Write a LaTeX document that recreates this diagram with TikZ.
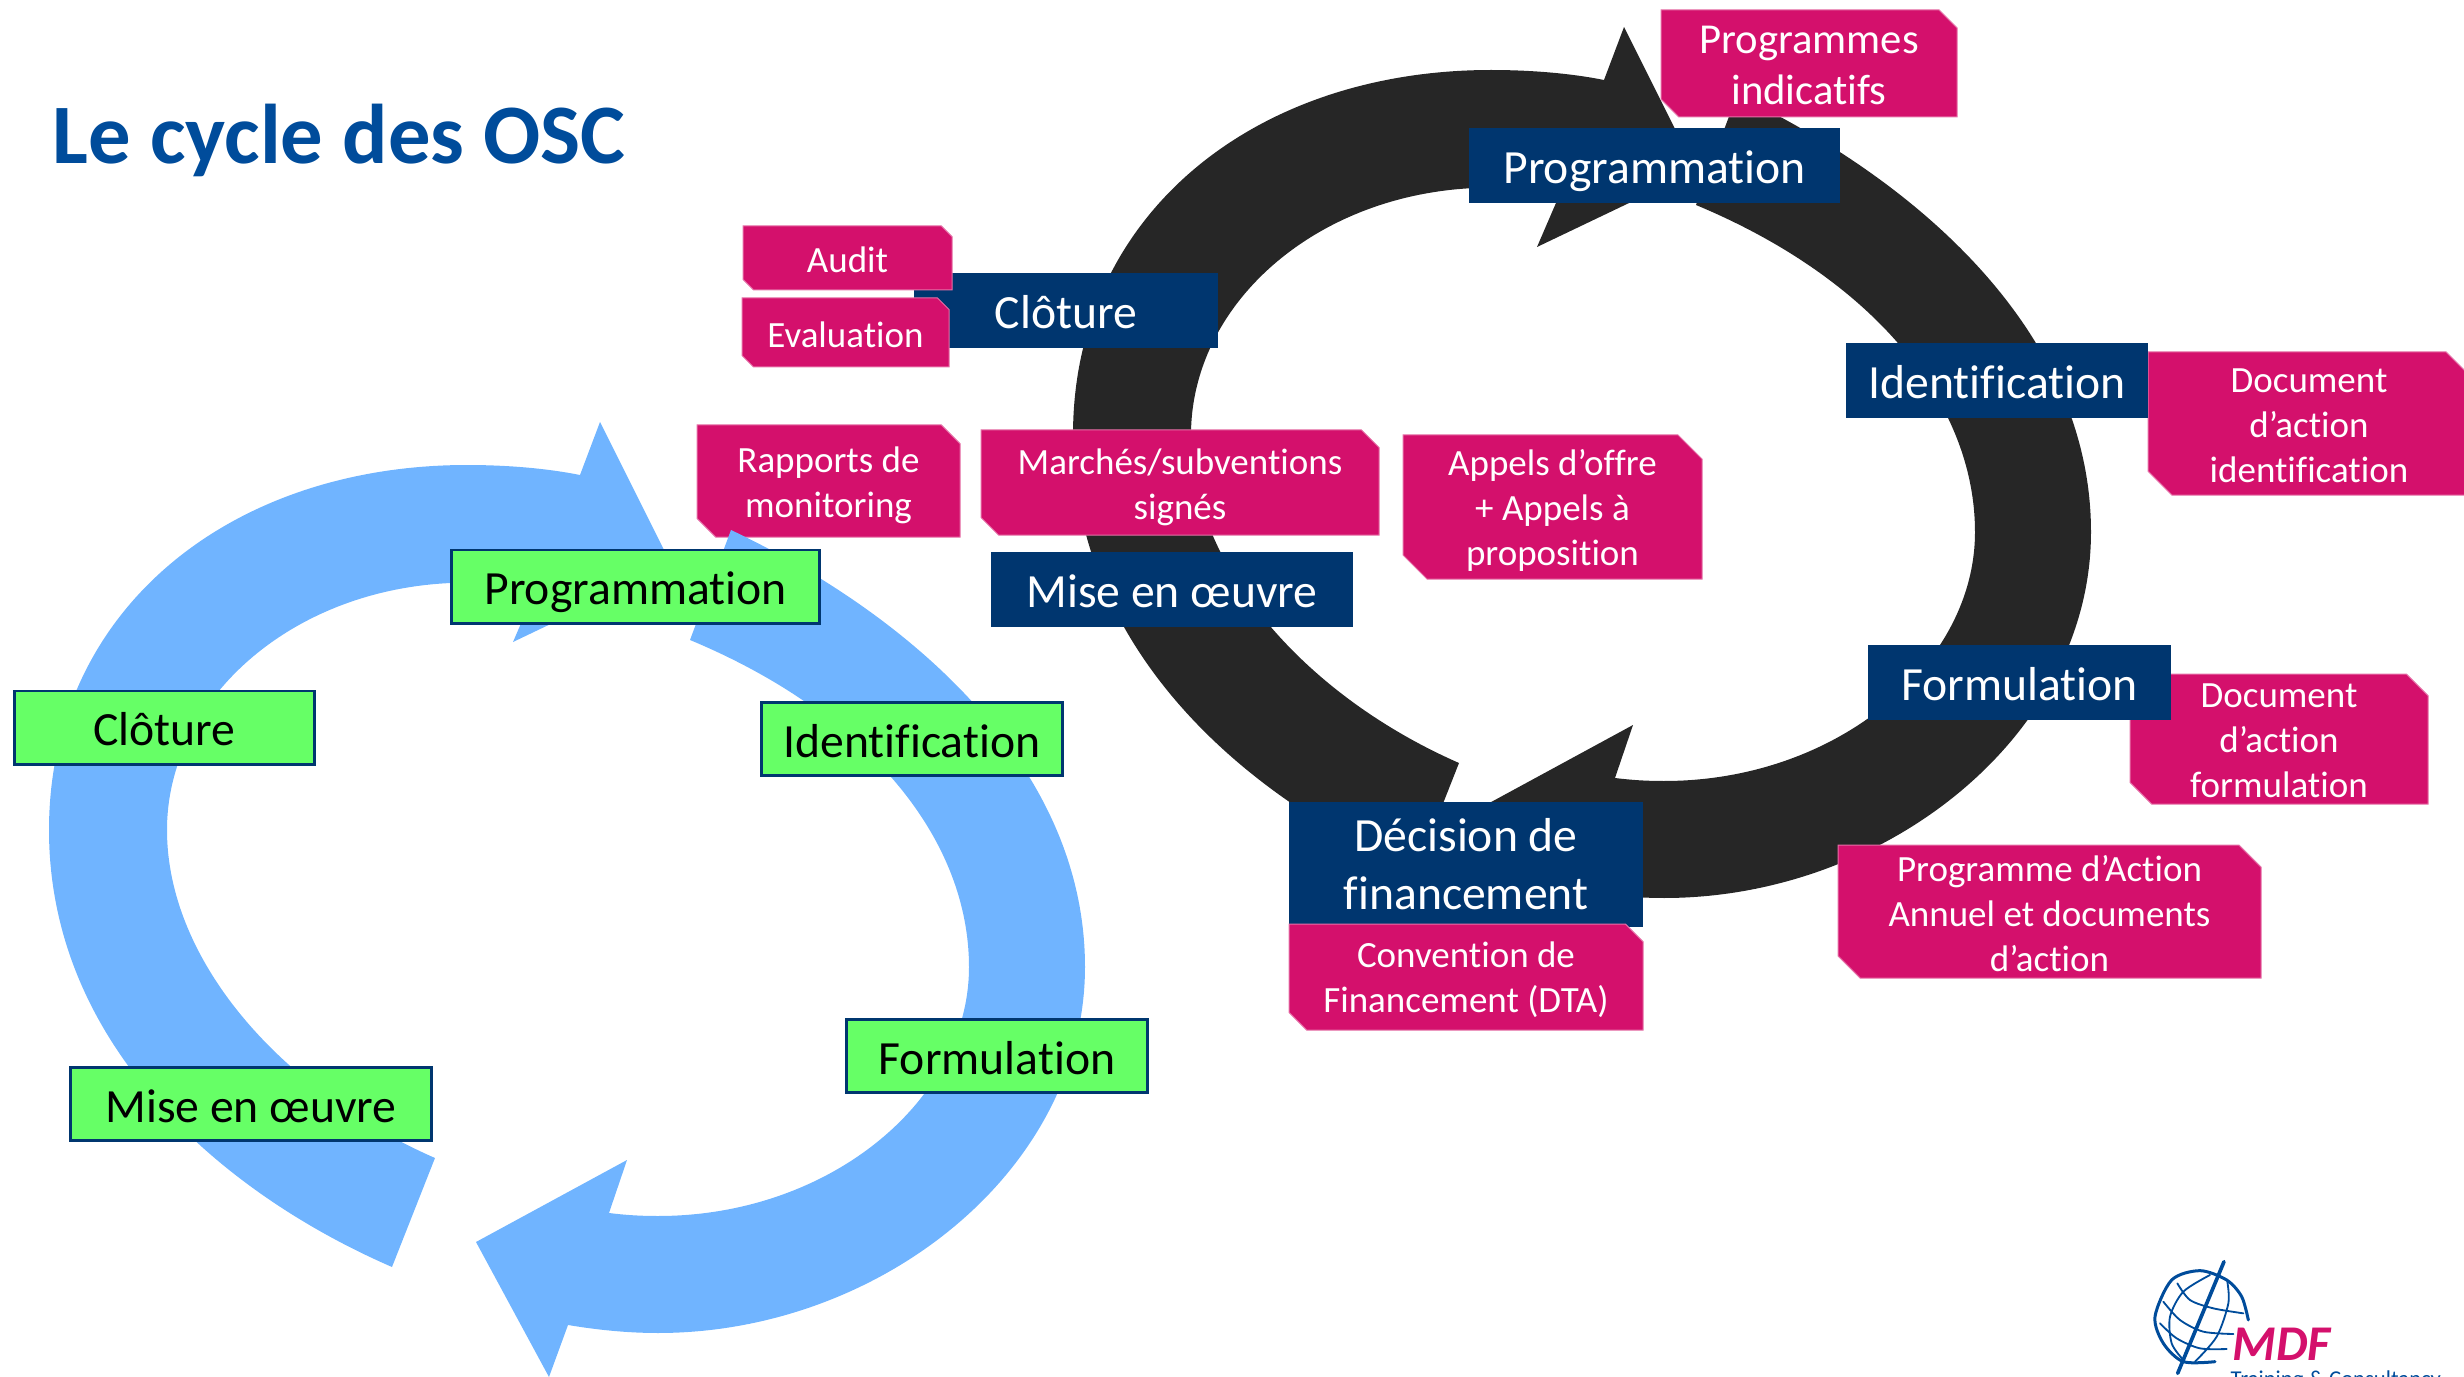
\documentclass[tikz,border=0pt]{standalone}
\usepackage{fontspec}
\setmainfont{Carlito}[Ligatures=NoCommon]
\usepackage{xcolor}
\definecolor{arrowblack}{HTML}{262626}
\definecolor{arrowblue}{HTML}{70B4FF}
\definecolor{stepnavy}{HTML}{00366F}
\definecolor{stepgreen}{HTML}{66FF66}
\definecolor{docpink}{HTML}{D4106C}
\definecolor{logoblue}{HTML}{004C9B}
\tikzset{
  navybox/.style={fill=stepnavy,text=white,inner sep=0pt,minimum height=22.5pt,align=center,font={\fontsize{14.3}{17.4}\selectfont}},
  greenbox/.style={fill=stepgreen,draw=stepnavy,line width=0.8pt,text=black,inner sep=0pt,minimum height=22pt,font={\fontsize{14.3}{17}\selectfont}},
  oneline/.style={text height=12pt,text depth=1.2pt},
  docfill/.style={fill=docpink,draw=docpink!60!white,line width=0.3pt},
  doctext/.style={text=white,inner sep=0pt,align=center,yshift=-0.6pt,font={\fontsize{11.1}{13.5}\selectfont}},
  doclarge/.style={yshift=0pt,font={\fontsize{12.8}{15.2}\selectfont}},
  logoline/.style={draw=logoblue,line width=0.55pt,line cap=round},
}
\newcommand{\docbox}[7][]{%
  \pgfmathsetmacro{\snipd}{(#6-#4)/6}
  \filldraw[docfill] (#3,#4) -- ({#5-\snipd},#4) -- (#5,{#4+\snipd}) -- (#5,#6) -- ({#3+\snipd},#6) -- (#3,{#6-\snipd}) -- cycle;
  \node[doctext,#1] (#2) at ({(#3+#5)/2},{(#4+#6)/2}) {#7};}
% the two arrows of a cycle
\newcommand{\firstarrow}[1]{%
  \fill[#1] (392,1267) .. controls (215,1190) and (49,1040) .. (49,830)
    .. controls (49,610) and (230,465) .. (467,465) .. controls (505,465) and (545,468) .. (580,475)
    -- (600,422) -- (672,566) -- (513,642) -- (538,584)
    .. controls (510,582) and (480,581) .. (451,583) .. controls (290,590) and (167,700) .. (167,830)
    .. controls (167,960) and (280,1090) .. (435,1158) -- cycle;}
\newcommand{\secondarrow}[1]{%
  \fill[#1] (731,530) .. controls (900,610) and (1085,760) .. (1085,967)
    .. controls (1085,1170) and (880,1333) .. (658,1333) .. controls (628,1333) and (598,1330) .. (568,1325)
    -- (549,1377) -- (476,1242) -- (627,1160) -- (609,1213)
    .. controls (625,1215) and (640,1216) .. (658,1216) .. controls (830,1216) and (969,1100) .. (969,967)
    .. controls (969,840) and (870,715) .. (690,640) -- cycle;}
\begin{document}
\begin{tikzpicture}[x=0.3pt,y=-0.3pt]
  \useasboundingbox (0,0) rectangle (2464,1377);
  \node[anchor=base west,inner sep=0pt,text=logoblue,font={\fontsize{25.4}{30}\selectfont\bfseries}] (title) at (52,164) {Le cycle des OSC};
  % black cycle
  \begin{scope}[shift={(1024,-395)}]
    \firstarrow{arrowblack}
  \end{scope}
  \begin{scope}[shift={(1006,-435)}]
    \secondarrow{arrowblack}
  \end{scope}
  % documents under the steps
  \docbox[yshift=-0.8pt]{rapports}{697}{425}{960}{537}{Rapports de\\monitoring}
  \docbox[yshift=-0.8pt]{marches}{981}{430}{1379}{535}{Marchés/subventions\\signés}
  \docbox[yshift=-0.4pt]{appels}{1403}{435}{1702}{579}{Appels d’offre\\+ Appels à\\proposition}
  \docbox[doclarge]{programmes}{1661}{10}{1957}{117}{Programmes\\indicatifs}
  \docbox{docidentification}{2148}{352}{2470}{495}{Document\\d’action\\identification}
  \docbox{docformulation}{2130}{674}{2428}{804}{Document\\d’action\\formulation}
  \docbox{programmeaction}{1838}{845}{2261}{978}{Programme d’Action\\Annuel et documents\\d’action}
  % steps on the black cycle
  \node[navybox,oneline,minimum width=111.3pt] (programmation) at (1654.5,166) {Programmation};
  \node[navybox,oneline,minimum width=91.2pt] (cloture) at (1066,311) {Clôture};
  \node[navybox,oneline,minimum width=108.6pt] (miseenoeuvre) at (1172,589) {Mise en œuvre};
  \node[navybox,oneline,minimum width=90.6pt] (identification) at (1997,381) {Identification};
  \node[navybox,oneline,minimum width=90.9pt] (formulation) at (2019.5,682) {Formulation};
  \node[navybox,minimum width=106.2pt,minimum height=37.5pt] (decision) at (1466,864) {Décision de\\financement};
  \docbox{audit}{743}{226}{952}{290}{Audit}
  \docbox{evaluation}{742}{298}{949}{367}{Evaluation}
  \docbox[yshift=-0.3pt]{convention}{1289}{924}{1643}{1030}{Convention de\\Financement (DTA)}
  % blue cycle
  \firstarrow{arrowblue}
  \secondarrow{arrowblue}
  \node[greenbox,oneline,minimum width=110.4pt] (gprogrammation) at (635.5,586.5) {Programmation};
  \node[greenbox,oneline,minimum width=90pt] (gcloture) at (164.5,727.5) {Clôture};
  \node[greenbox,oneline,minimum width=90.3pt] (gidentification) at (912,739) {Identification};
  \node[greenbox,oneline,minimum width=90.3pt] (gformulation) at (997,1056) {Formulation};
  \node[greenbox,oneline,minimum width=108.3pt] (gmiseenoeuvre) at (251,1104) {Mise en œuvre};
  % logo
  \begin{scope}[shift={(2100,1230)},x=0.1pt,y=-0.1pt]
    \draw[logoline,line width=0.9pt] plot[smooth] coordinates {(445,270) (425,200) (380,150) (300,122) (215,150) (165,260) (190,340) (250,395) (345,395)};
    \draw[logoline,line width=1.1pt] (372,95) -- (233,430);
    \draw[logoline] plot[smooth] coordinates {(232,160) (270,210) (340,235) (430,250)};
    \draw[logoline] plot[smooth] coordinates {(190,215) (240,270) (310,305) (400,312)};
    \draw[logoline] plot[smooth] coordinates {(180,280) (230,325) (300,355) (380,357)};
    \draw[logoline] plot[smooth] coordinates {(330,135) (250,185) (210,260) (215,340) (250,390)};
    \draw[logoline] plot[smooth] coordinates {(382,155) (385,220) (350,320) (285,395)};
    \node[anchor=base west,inner sep=0pt,text=docpink,font={\fontsize{15}{17}\selectfont\bfseries\itshape}] (mdf) at (395,392) {MDF};
    \node[anchor=base west,inner sep=0pt,text=logoblue,font={\fontsize{6.8}{8}\selectfont}] (training) at (390,470) {Training \& Consultancy};
  \end{scope}
\end{tikzpicture}
\end{document}
